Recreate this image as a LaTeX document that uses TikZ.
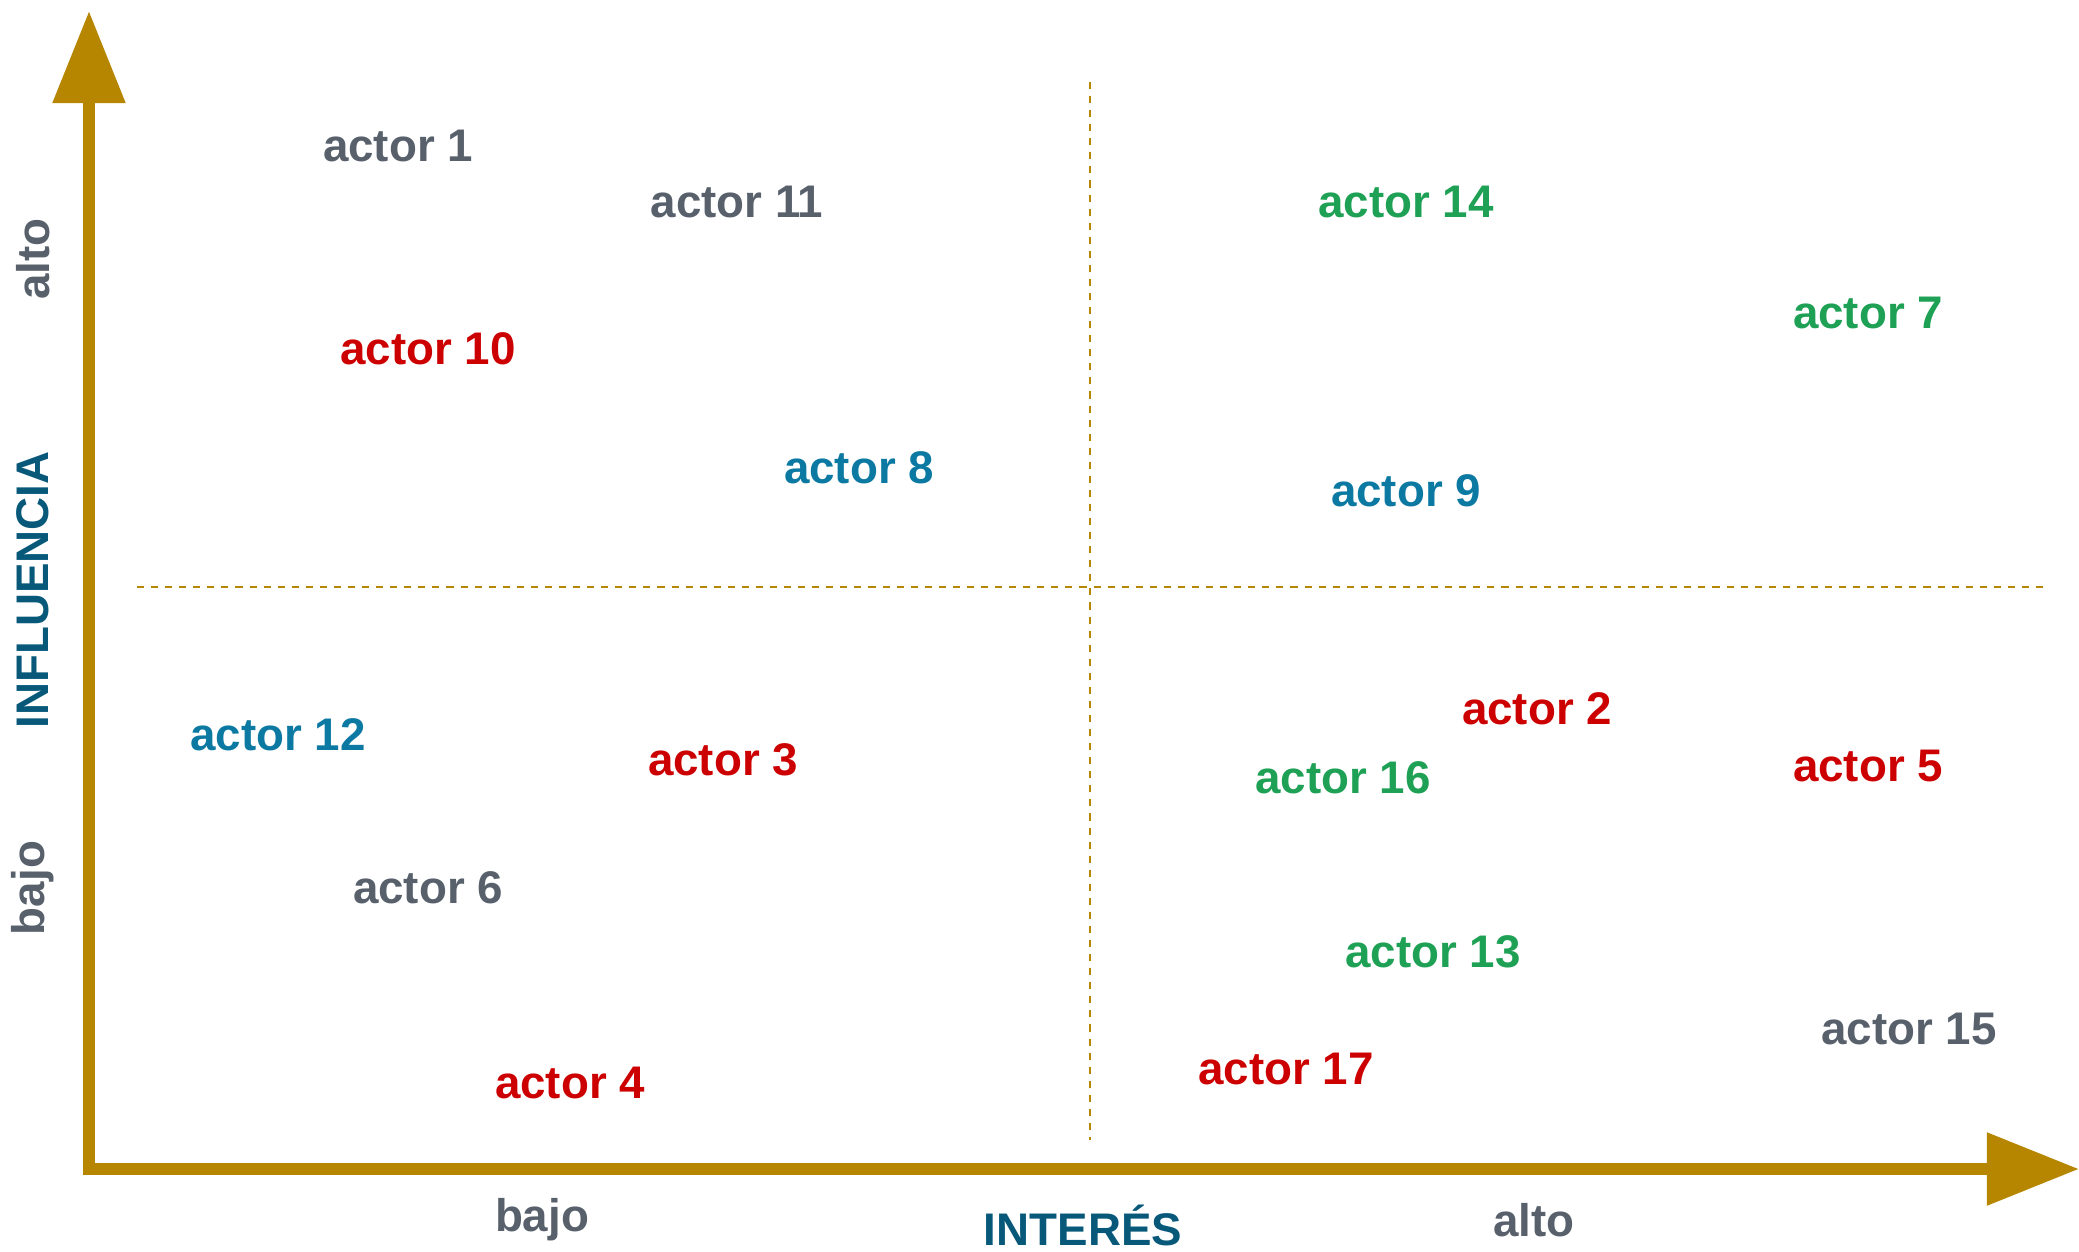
\documentclass[tikz,border=0pt]{standalone}
\usepackage{fontspec}
\setmainfont{Liberation Sans}
\usetikzlibrary{arrows.meta}
\definecolor{axisgold}{RGB}{183,134,0}
\definecolor{actgray}{RGB}{87,96,107}
\definecolor{actred}{RGB}{204,0,0}
\definecolor{actblue}{RGB}{12,121,162}
\definecolor{actgreen}{RGB}{30,160,85}
\definecolor{titleblue}{RGB}{8,88,122}
\begin{document}
\begin{tikzpicture}[x=0.01cm,y=-0.01cm,
    axis/.style={line width=3.4pt,color=axisgold,-{Triangle[length=0.92cm,width=0.70cm]}},
    split/.style={axisgold,line width=0.6pt,dash pattern=on 2pt off 2pt},
    lbl/.style={font=\fontsize{13}{15}\selectfont\bfseries,inner sep=0pt},
    gray/.style={lbl,text=actgray},
    red/.style={lbl,text=actred},
    blue/.style={lbl,text=actblue},
    green/.style={lbl,text=actgreen},
    title/.style={lbl,text=titleblue}]
    \useasboundingbox (0,0) rectangle (2079,1251);
    % axes
    \coordinate (origin) at (89,1169);
    \coordinate (ytip) at (89,11);
    \coordinate (xtip) at (2079,1169);
    \draw[axis] ([yshift=-1.7pt]origin) -- (ytip);
    \draw[axis] ([xshift=-1.7pt]origin) -- (xtip);
    % quadrants
    \coordinate (hl) at (137,587);
    \coordinate (hr) at (2043,587);
    \coordinate (vt) at (1090,82);
    \coordinate (vb) at (1090,1140);
    \draw[split] (hl) -- (hr);
    \draw[split] (vt) -- (vb);
    % axis labels
    \node[gray,rotate=90] (yhigh) at (33,259) {alto};
    \node[title,rotate=90] (ytitle) at (33,590) {INFLUENCIA};
    \node[gray,rotate=90] (ylow) at (33,888) {bajo};
    \node[gray] (xlow) at (542,1220) {bajo};
    \node[title] (xtitle) at (1083,1225) {INTERÉS};
    \node[gray] (xhigh) at (1534,1220) {alto};
    % actors
    \node[gray] (a1) at (398,146) {actor 1};
    \node[red] (a2) at (1537,709) {actor 2};
    \node[red] (a3) at (723,760) {actor 3};
    \node[red] (a4) at (570,1083) {actor 4};
    \node[red] (a5) at (1868,766) {actor 5};
    \node[gray] (a6) at (428,888) {actor 6};
    \node[green] (a7) at (1868,313) {actor 7};
    \node[blue] (a8) at (859,468) {actor 8};
    \node[blue] (a9) at (1406,491) {actor 9};
    \node[red] (a10) at (428,349) {actor 10};
    \node[gray] (a11) at (737,202) {actor 11};
    \node[blue] (a12) at (278,735) {actor 12};
    \node[green] (a13) at (1433,952) {actor 13};
    \node[green] (a14) at (1406,202) {actor 14};
    \node[gray] (a15) at (1909,1029) {actor 15};
    \node[green] (a16) at (1343,778) {actor 16};
    \node[red] (a17) at (1286,1069) {actor 17};
\end{tikzpicture}
\end{document}
